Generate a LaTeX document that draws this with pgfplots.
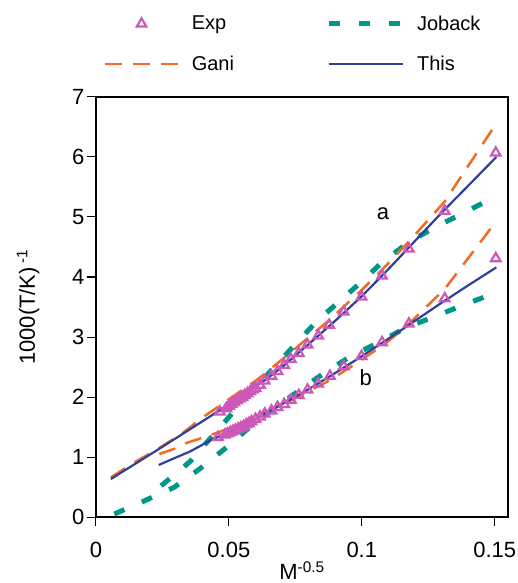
\documentclass[border=0pt]{standalone}
\usepackage{fontspec}
\setmainfont{Liberation Sans}
\usepackage{pgfplots}
\pgfplotsset{compat=1.18}

\definecolor{expc}{RGB}{206,88,186}
\definecolor{ganic}{RGB}{240,108,36}
\definecolor{jobc}{RGB}{0,150,136}
\definecolor{thisc}{RGB}{44,64,156}

\begin{document}
\begin{tikzpicture}
\begin{axis}[
  name=ax,
  scale only axis, width=412pt, height=420pt,
  xmin=0, xmax=0.155, ymin=0, ymax=7,
  xtick={0,0.05,0.1,0.15}, ytick={0,1,...,7},
  xticklabels={0,0.05,0.1,0.15},
  xtick pos=bottom, ytick pos=left, tick align=outside,
  major tick length=9pt, axis line style={line width=1.3pt},
  tick style={line width=1pt, black},
  /pgf/number format/assume math mode=true,
  tick label style={font=\fontsize{22}{26}\selectfont},
  xticklabel style={yshift=-13pt},
  yticklabel style={xshift=1pt},
  xlabel={M\textsuperscript{-0.5}},
  ylabel={1000(T/K)\,\textsuperscript{-1}},
  label style={font=\fontsize{22}{26}\selectfont},
  xlabel style={inner sep=0pt, yshift=0pt},
  ylabel style={yshift=26pt},
  legend columns=2, legend cell align=left,
  legend image code/.code={\draw[mark repeat=2,mark phase=2,#1]
    plot coordinates {(0pt,0pt) (37pt,0pt) (74pt,0pt)};},
  legend style={draw=none, fill=none, font=\fontsize{20}{24}\selectfont,
    at={(0.01,1.05)}, anchor=south west, row sep=20pt,
    /tikz/every odd column/.append style={column sep=10pt},
    /tikz/every even column/.append style={column sep=90pt}},
]
% Exp, series a
\addplot[only marks, mark=triangle, mark size=5.5pt, expc, line width=2.2pt]
coordinates {
(0.0466,1.755)(0.0490,1.81)(0.0500,1.85)(0.0510,1.88)(0.0520,1.91)(0.0530,1.94)
(0.0540,1.97)(0.0550,2.00)(0.0560,2.03)(0.0570,2.06)(0.0580,2.09)(0.0590,2.12)
(0.0600,2.15)(0.0617,2.20)(0.0635,2.27)(0.0660,2.35)(0.0683,2.43)(0.0708,2.53)
(0.0733,2.63)(0.0763,2.73)(0.0796,2.87)(0.0836,3.02)(0.0877,3.20)(0.0932,3.42)
(0.0999,3.67)(0.1076,4.02)(0.1177,4.47)(0.1312,5.10)(0.1504,6.07)};
\addlegendentry{Exp}
% Joback a
\addplot[jobc, line width=5pt, dash pattern=on 11pt off 19pt]
coordinates {
(0.0245,0.52)(0.0353,0.92)(0.0507,1.70)(0.0667,2.48)(0.0830,3.26)(0.0999,3.92)
(0.1080,4.26)(0.1180,4.59)(0.1280,4.84)(0.1380,5.06)(0.1506,5.35)};
\addlegendentry{Joback}
% Gani a
\addplot[ganic, line width=2.5pt, dash pattern=on 17pt off 11pt]
coordinates {
(0.0056,0.66)(0.0138,0.895)(0.0231,1.13)(0.0323,1.39)(0.0414,1.70)(0.0464,1.85)
(0.0551,2.12)(0.0604,2.28)(0.0729,2.73)(0.0877,3.28)(0.0999,3.78)(0.1076,4.12)
(0.1177,4.59)(0.1312,5.26)(0.1506,6.56)};
\addlegendentry{Gani}
% This a
\addplot[thisc, line width=2.2pt]
coordinates {
(0.0056,0.633)(0.025,1.17)(0.0457,1.755)(0.055,2.03)(0.0635,2.28)(0.070,2.50)
(0.080,2.88)(0.090,3.27)(0.100,3.68)(0.110,4.13)(0.120,4.60)(0.130,5.07)
(0.140,5.52)(0.1506,6.00)};
\addlegendentry{This}
% Exp, series b
\addplot[only marks, mark=triangle, mark size=5.5pt, expc, line width=2.2pt]
coordinates {
(0.0459,1.33)(0.0485,1.37)(0.0495,1.39)(0.0505,1.41)(0.0515,1.43)(0.0525,1.45)
(0.0535,1.47)(0.0545,1.49)(0.0555,1.51)(0.0565,1.54)(0.0575,1.56)(0.0585,1.59)
(0.0600,1.63)(0.0617,1.67)(0.0635,1.72)(0.0660,1.77)(0.0683,1.83)(0.0708,1.88)
(0.0733,1.95)(0.0763,2.03)(0.0796,2.12)(0.0836,2.22)(0.0880,2.35)(0.0932,2.51)
(0.0999,2.68)(0.1076,2.91)(0.1177,3.22)(0.1312,3.64)(0.1504,4.31)};
% Joback b
\addplot[jobc, line width=5pt, dash pattern=on 11pt off 19pt]
coordinates {
(0.0069,0.05)(0.0175,0.255)(0.0294,0.495)(0.0388,0.795)(0.0482,1.128)(0.0566,1.45)
(0.0679,1.84)(0.0855,2.39)(0.0955,2.67)(0.1068,2.92)(0.1168,3.16)(0.1274,3.34)
(0.1380,3.53)(0.1506,3.74)};
% Gani b
\addplot[ganic, line width=2.5pt, dash pattern=on 17pt off 11pt]
coordinates {
(0.0238,1.05)(0.0300,1.145)(0.0338,1.23)(0.0400,1.32)(0.0466,1.42)(0.0550,1.57)
(0.0635,1.74)(0.0750,1.98)(0.0876,2.27)(0.1000,2.62)(0.1100,2.93)(0.1177,3.22)
(0.1312,3.80)(0.1506,4.93)};
% This b
\addplot[thisc, line width=2.2pt]
coordinates {
(0.0236,0.867)(0.0300,0.99)(0.0353,1.09)(0.0445,1.31)(0.0550,1.51)(0.0635,1.72)
(0.0700,1.88)(0.0800,2.13)(0.0900,2.40)(0.1000,2.68)(0.1100,2.97)(0.1200,3.27)
(0.1300,3.57)(0.1400,3.86)(0.1506,4.16)};
\node[font=\fontsize{22}{26}\selectfont] at (axis cs:0.108,5.06) {a};
\node[font=\fontsize{22}{26}\selectfont] at (axis cs:0.1015,2.33) {b};
\end{axis}
\pgfresetboundingbox
\path[use as bounding box] ([shift={(-96pt,-66pt)}]ax.south west)
  rectangle ([shift={(9pt,97pt)}]ax.north east);
\end{tikzpicture}
\end{document}
